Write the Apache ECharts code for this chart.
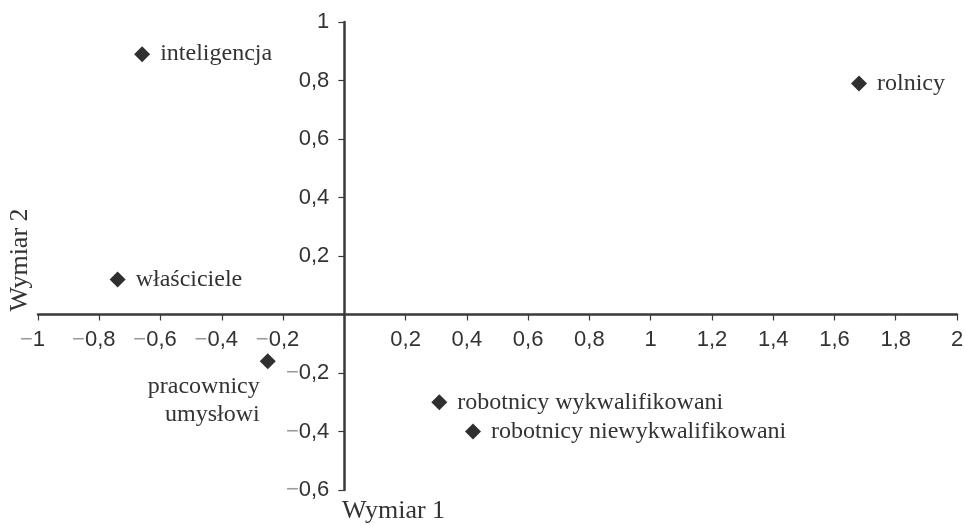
<!DOCTYPE html>
<html><head><meta charset="utf-8">
<script src="https://cdn.jsdelivr.net/npm/echarts@6/dist/echarts.min.js"></script>
<style>html,body{margin:0;padding:0;background:#fff}#c{width:964px;height:525px}</style>
</head><body><div id="c"></div>
<script>
const categories = ['inteligencja', 'rolnicy', 'właściciele', 'pracownicy\numysłowi', 'robotnicy wykwalifikowani', 'robotnicy niewykwalifikowani'];
const dim1 = [-0.66, 1.68, -0.74, -0.25, 0.31, 0.42];
const dim2 = [0.89, 0.79, 0.12, -0.16, -0.30, -0.40];
const xRange = [-1, 2];
const yRange = [-0.6, 1];
const tickStep = 0.2;
const xTitle = 'Wymiar 1';
const yTitle = 'Wymiar 2';

const W = 964, H = 525;
const G = { left: 38, right: 7, top: 22, bottom: 35 };
const gridW = W - G.left - G.right;
const gridH = H - G.top - G.bottom;
// shift axes so they cross at the origin
const xAxisOffset = -gridH * (0 - yRange[0]) / (yRange[1] - yRange[0]);
const yAxisOffset = -gridW * (0 - xRange[0]) / (xRange[1] - xRange[0]);

const ink = '#333333';
const serif = "'Liberation Serif', 'Times New Roman', serif";
const sans = "'Liberation Sans', Arial, sans-serif";

function fmtNum(v) {
  const r = Math.round(v * 10) / 10;
  return String(Math.abs(r)).replace('.', ',');
}
function xFmt(v) {
  const r = Math.round(v * 10) / 10;
  if (r === 0) return '';
  if (r < 0) return '{m|−}{n|' + fmtNum(r) + '}{s| }';
  return '{n|' + fmtNum(r) + '}';
}
function yFmt(v) {
  const r = Math.round(v * 10) / 10;
  if (r === 0) return '';
  if (r < 0) return '{m|−}{n|' + fmtNum(r) + '}';
  return '{n|' + fmtNum(r) + '}';
}
const rich = {
  m: { color: '#9a9a9a', fontSize: 22, fontFamily: sans },
  n: { color: ink, fontSize: 22, fontFamily: sans },
  s: { width: 11, fontSize: 22 }
};

const points = categories.map((name, i) => {
  const item = { name: name, value: [dim1[i], dim2[i]] };
  if (i === 3) {
    item.label = { position: 'left', distance: 0, offset: [0, 39], align: 'right', lineHeight: 28 };
  }
  return item;
});

const axisLine = { show: true, onZero: false, lineStyle: { color: '#3a3a3a', width: 2.5 } };
const axisTick = { show: true, length: 6, lineStyle: { color: '#3a3a3a', width: 1.2 } };

const chart = echarts.init(document.getElementById('c'), null, { renderer: 'canvas' });
chart.setOption({
  animation: false,
  backgroundColor: '#ffffff',
  grid: { left: G.left, right: G.right, top: G.top, bottom: G.bottom, containLabel: false, outerBoundsMode: 'none' },
  xAxis: {
    type: 'value', min: xRange[0], max: xRange[1], interval: tickStep,
    position: 'bottom', offset: xAxisOffset,
    axisLine: axisLine, axisTick: axisTick, splitLine: { show: false },
    axisLabel: { margin: 14, formatter: xFmt, rich: rich }
  },
  yAxis: {
    type: 'value', min: yRange[0], max: yRange[1], interval: tickStep,
    position: 'left', offset: yAxisOffset,
    axisLine: axisLine, axisTick: axisTick, splitLine: { show: false },
    axisLabel: { margin: 15, formatter: yFmt, rich: rich }
  },
  series: [{
    type: 'scatter',
    symbol: 'diamond',
    symbolSize: 16,
    itemStyle: { color: '#2f2f2f', opacity: 1 },
    data: points,
    label: {
      show: true, position: 'right', distance: 10,
      formatter: p => p.name,
      color: ink, fontFamily: serif, fontSize: 24
    },
    emphasis: { disabled: true }
  }],
  graphic: [
    { type: 'text', x: 342, y: 511, style: { text: xTitle, fill: ink, font: '26px ' + serif, textAlign: 'left', textVerticalAlign: 'middle' } },
    { type: 'text', x: 20, y: 260, rotation: Math.PI / 2, style: { text: yTitle, fill: ink, font: '26px ' + serif, textAlign: 'center', textVerticalAlign: 'middle' } }
  ]
});
</script>
</body></html>
